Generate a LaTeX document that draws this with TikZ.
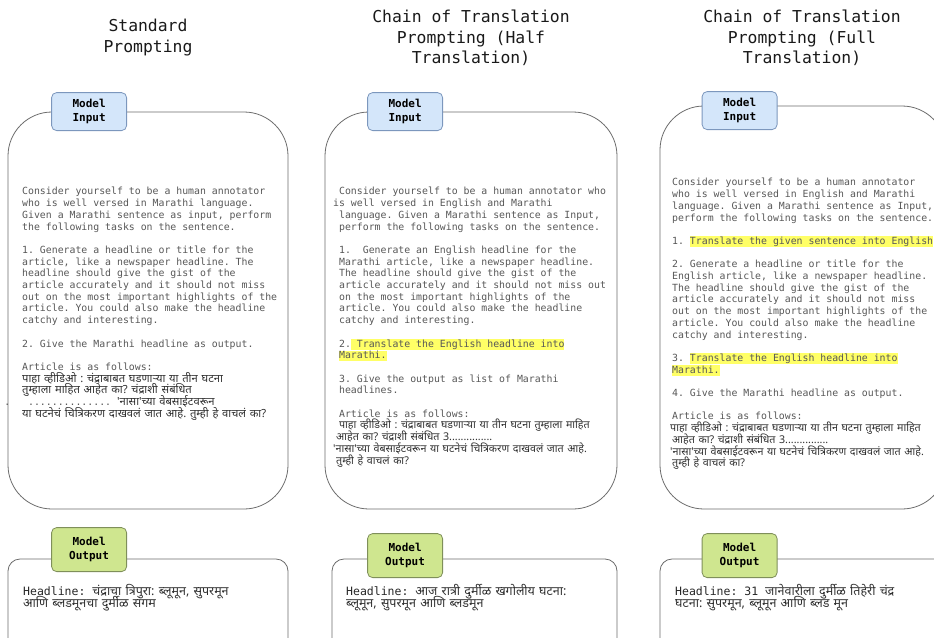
\documentclass[tikz,border=0pt]{standalone}
\usepackage{fontspec}
\setmonofont{DejaVu Sans Mono}
\newfontfamily\deva[Script=Devanagari,WordSpace=1.3]{Noto Sans}
\usetikzlibrary{positioning}

\definecolor{inblue}{HTML}{D4E6FA}
\definecolor{inblueline}{HTML}{7C97BD}
\definecolor{outgreen}{HTML}{CFE68F}
\definecolor{outgreenline}{HTML}{7F8F5A}
\definecolor{frameline}{HTML}{6B6B6B}
\definecolor{bodygray}{HTML}{575757}
\definecolor{devgray}{HTML}{303030}
\definecolor{hlyellow}{HTML}{FFFF66}

\newcommand{\hl}[1]{{\setlength{\fboxsep}{0pt}\colorbox{hlyellow}{\rule[-2.6pt]{0pt}{10.6pt}#1}}}
\newcommand{\mr}[1]{{\deva\fontsize{11.2}{11.7}\selectfont\color{devgray}#1}}
\newcommand{\mrs}[1]{{\deva\fontsize{10.7}{11.7}\selectfont\color{devgray}#1}}
\newcommand{\mrh}[1]{{\deva\fontsize{12.5}{12}\selectfont\color{devgray}#1}}
\newcommand{\ind}{\phantom{x}}
\newcommand{\firstline}{\spaceskip=0pt\xspaceskip=0pt\parindent=0pt\rule{0pt}{12pt}}

\begin{document}
\begin{tikzpicture}[x=1pt,y=-1pt,
    title/.style={font=\ttfamily\fontsize{16.4}{20.5}\selectfont, text=black!90, align=center},
    inframe/.style={draw=frameline, line width=0.8pt, rounded corners=44pt, inner sep=0pt},
    outframe/.style={draw=frameline, line width=0.8pt, rounded corners=12pt, inner sep=0pt},
    tag/.style={line width=0.8pt, rounded corners=5pt, minimum width=75pt, align=center, inner sep=0pt,
      font=\ttfamily\bfseries\fontsize{11}{14}\selectfont},
    intag/.style={tag, fill=inblue, draw=inblueline, minimum height=38pt},
    outtag/.style={tag, fill=outgreen, draw=outgreenline, minimum height=44pt},
    prompt/.style={anchor=north west, inner sep=0pt, text width=300pt, align=left, text=bodygray,
      font={\ttfamily\fontsize{9.85}{11.7}\selectfont\frenchspacing\lineskiplimit=-20pt}},
    answer/.style={anchor=north west, inner sep=0pt, text width=300pt, align=left, text=black!85,
      font={\ttfamily\fontsize{11.5}{12}\selectfont\frenchspacing\lineskiplimit=-20pt}}]
  \useasboundingbox (0,0) rectangle (934,637);

  \node[title] (title1) at (148,37.5) {Standard\\Prompting};
  \node[title] (title2) at (471,38) {Chain of Translation\\Prompting (Half\\Translation)};
  \node[title] (title3) at (802,38) {Chain of Translation\\Prompting (Full\\Translation)};

  \node[inframe, minimum width=280pt, minimum height=397pt] (inframe1) at (148,310.5) {};
  \node[inframe, minimum width=292pt, minimum height=397pt] (inframe2) at (471,310.5) {};
  \node[inframe, minimum width=286pt, minimum height=403pt] (inframe3) at (803,307.5) {};
  \node[outframe, minimum width=280pt, minimum height=100pt] (outframe1) at (148,609) {};
  \node[outframe, minimum width=285pt, minimum height=100pt] (outframe2) at (474.5,609) {};
  \node[outframe, minimum width=290pt, minimum height=100pt] (outframe3) at (805,609) {};

  \node[intag] (intag1) at ([xshift=81.5pt]inframe1.north west) {Model\\Input};
  \node[intag] (intag2) at ([xshift=80.5pt]inframe2.north west) {Model\\Input};
  \node[intag] (intag3) at ([xshift=80pt,yshift=-5pt]inframe3.north west) {Model\\Input};
  \node[outtag] (outtag1) at ([xshift=81.5pt,yshift=9pt]outframe1.north west) {Model\\Output};
  \node[outtag] (outtag2) at ([xshift=73.5pt,yshift=3pt]outframe2.north west) {Model\\Output};
  \node[outtag] (outtag3) at ([xshift=80pt,yshift=3pt]outframe3.north west) {Model\\Output};

  \node[prompt] (intext1) at (22,182.7) {\firstline Consider yourself to be a human annotator\\
    who is well versed in Marathi language.\\
    Given a Marathi sentence as input, perform\\
    the following tasks on the sentence.\\[11.7pt]
    1. Generate a headline or title for the\\
    article, like a newspaper headline. The\\
    headline should give the gist of the\\
    article accurately and it should not miss\\
    out on the most important highlights of the\\
    article. You could also make the headline\\
    catchy and interesting.\\[11.7pt]
    2. Give the Marathi headline as output.\\[11.7pt]
    Article is as follows:\\
    \mr{पाहा व्हीडिओ : चंद्राबाबत घडणाऱ्या या तीन घटना}\\
    \mr{तुम्हाला माहित आहेत का? चंद्राशी संबंधित}\\
    \leavevmode\llap{.\ \ }\ ..............\ \mr{'नासा'च्या वेबसाईटवरून}\\
    \mr{या घटनेचं चित्रिकरण दाखवलं जात आहे. तुम्ही हे वाचलं का?}};

  \node[prompt] (intext2) at (333,182.7) {\firstline\ind Consider yourself to be a human annotator who\\
    is well versed in English and Marathi\\
    \ind language. Given a Marathi sentence as Input,\\
    \ind perform the following tasks on the sentence.\\[11.7pt]
    \ind 1.\ \ Generate an English headline for the\\
    \ind Marathi article, like a newspaper headline.\\
    \ind The headline should give the gist of the\\
    \ind article accurately and it should not miss out\\
    \ind on the most important highlights of the\\
    \ind article. You could also make the headline\\
    \ind catchy and interesting.\\[11.7pt]
    \ind 2.\hl{ Translate the English headline into}\\
    \ind\hl{Marathi.}\\[11.7pt]
    \ind 3. Give the output as list of Marathi\\
    \ind headlines.\\[11.7pt]
    \ind Article is as follows:\\
    \ind\mrs{पाहा व्हीडिओ : चंद्राबाबत घडणाऱ्या या तीन घटना तुम्हाला माहित}\\
    \hspace*{3pt}\mrs{आहेत का? चंद्राशी संबंधित 3...............}\\
    \mrs{'नासा'च्या वेबसाईटवरून या घटनेचं चित्रिकरण दाखवलं जात आहे.}\\
    \hspace*{3pt}\mrs{तुम्ही हे वाचलं का?}};

  \node[prompt] (intext3) at (672,173.7) {\firstline Consider yourself to be a human annotator\\
    who is well versed in English and Marathi\\
    language. Given a Marathi sentence as Input,\\
    perform the following tasks on the sentence.\\[11.7pt]
    1. \hl{Translate the given sentence into English}\\[11.7pt]
    2. Generate a headline or title for the\\
    English article, like a newspaper headline.\\
    The headline should give the gist of the\\
    article accurately and it should not miss\\
    out on the most important highlights of the\\
    article. You could also make the headline\\
    catchy and interesting.\\[11.7pt]
    3. \hl{Translate the English headline into}\\
    \hl{Marathi.}\\[11.7pt]
    4. Give the Marathi headline as output.\\[11.7pt]
    Article is as follows:\\
    \hspace*{-2pt}\mrs{पाहा व्हीडिओ : चंद्राबाबत घडणाऱ्या या तीन घटना तुम्हाला माहित}\\
    \mrs{आहेत का? चंद्राशी संबंधित 3...............}\\
    \hspace*{-2pt}\mrs{'नासा'च्या वेबसाईटवरून या घटनेचं चित्रिकरण दाखवलं जात आहे.}\\
    \mrs{तुम्ही हे वाचलं का?}};

  \node[answer] (outtext1) at (23,583.2) {\firstline Headline: \mrh{चंद्राचा त्रिपुरा: ब्लूमून, सुपरमून}\\
    \mrh{आणि ब्लडमूनचा दुर्मीळ संगम}};
  \node[answer] (outtext2) at (346,583.2) {\firstline Headline: \mrh{आज रात्री दुर्मीळ खगोलीय घटना:}\\
    \mrh{ब्लूमून, सुपरमून आणि ब्लडमून}};
  \node[answer] (outtext3) at (675,583.2) {\firstline Headline: 31 \mrh{जानेवारीला दुर्मीळ तिहेरी चंद्र}\\
    \mrh{घटना: सुपरमून, ब्लूमून आणि ब्लड मून}};
\end{tikzpicture}
\end{document}
